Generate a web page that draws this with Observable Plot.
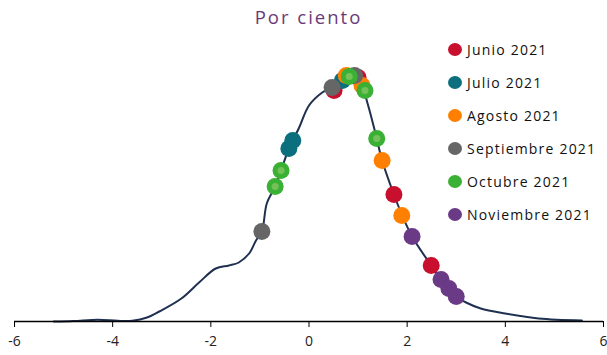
<!DOCTYPE html>
<html>
<head>
<meta charset="utf-8">
<script src="https://cdn.jsdelivr.net/npm/d3@7"></script>
<script src="https://cdn.jsdelivr.net/npm/@observablehq/plot@0.6"></script>
<style>
  html, body { margin: 0; padding: 0; background: #fff; }
  #wrap { position: relative; width: 607px; height: 355px; overflow: hidden; font-family: "Open Sans", "Liberation Sans", sans-serif; }
  #title { height: 36px; line-height: 34px; text-align: center; font-size: 18.5px; letter-spacing: 2px; color: #6a3a78; padding-left: 10px; }
  #legend { position: absolute; left: 447px; top: 40px; }
  .item { position: absolute; left: 0; height: 20px; white-space: nowrap; font-size: 14px; letter-spacing: 1.2px; color: #111; }
  .sw { position: absolute; left: 1px; top: 3px; width: 14px; height: 13px; border-radius: 50%; }
  .lab { position: absolute; left: 20px; top: 0; line-height: 20px; }
</style>
</head>
<body>
<div id="wrap">
  <div id="title">Por ciento</div>
  <div id="chart"></div>
  <div id="legend"></div>
</div>
<script>
// Density curve (x in per cent, height in arbitrary density units)
const curveX = [-5.2,-4.8,-4.3,-3.9,-3.6,-3.3,-3.05,-2.6,-2.24,-1.9,-1.63,-1.43,-1.22,-1.08,-0.96,-0.86,-0.69,-0.57,-0.41,-0.33,-0.2,0,0.27,0.47,0.68,0.85,1.0,1.1,1.16,1.25,1.38,1.49,1.73,1.9,2.1,2.49,2.69,2.85,3.0,3.2,3.5,4.0,4.68,5.56];
const curveY = [0,0.5,1.8,0.7,0.8,4,10,23,39,53,56,59,68,81,90,118,135,151,173,181,194,216,229,234,242,246,244,236,224,208,183,161,127,106,85,56,42,33,25,19,13,8,3,1];

const seriesNames = ["Junio 2021","Julio 2021","Agosto 2021","Septiembre 2021","Octubre 2021","Noviembre 2021"];
const seriesColors = ["#c8102e","#0b6f7d","#ff8000","#666666","#3ab034","#6b3a87"];

const junioX = [0.51,1.0,1.73,2.49];        const junioY = [231,244,127,56];
const julioX = [-0.41,-0.33,0.68];           const julioY = [173,181,241];
const agostoX = [0.76,1.08,1.49,1.89];       const agostoY = [246,236,161,106];
const septX = [-0.96,0.47,0.93];             const septY = [90,234,246];
const octX = [-0.69,-0.57,0.82,1.14,1.38];   const octY = [135,151,245,231,183];
const novX = [2.1,2.69,2.85,3.0];            const novY = [85,42,33,25];

const xTicks = [-6,-4,-2,0,2,4,6];

const curve = curveX.map((x, i) => ({x, y: curveY[i]}));
const seriesX = [junioX, julioX, agostoX, septX, octX, novX];
const seriesY = [junioY, julioY, agostoY, septY, octY, novY];
const pts = [];
seriesX.forEach((xs, s) => xs.forEach((x, i) => pts.push({x, y: seriesY[s][i], s: seriesNames[s]})));

const chart = Plot.plot({
  width: 607,
  height: 319,
  marginLeft: 14,
  marginRight: 4,
  marginTop: 0,
  marginBottom: 34,
  style: {fontFamily: "'Open Sans', 'Liberation Sans', sans-serif", fontSize: "14px", color: "#222", background: "#fff"},
  x: {domain: [-6, 6], ticks: xTicks, tickFormat: d => String(d), tickSize: 6, tickPadding: 9, label: null},
  y: {domain: [0, 285], axis: null},
  color: {domain: seriesNames, range: seriesColors},
  marks: [
    Plot.line(curve, {x: "x", y: "y", curve: "catmull-rom", stroke: "#1f3050", strokeWidth: 2}),
    Plot.dot(pts, {x: "x", y: "y", r: 8.5, fill: "s", stroke: "none"}),
    Plot.dot(pts.filter(d => d.s === "Octubre 2021"), {x: "x", y: "y", r: 3.5, fill: "#74c15a"}),
    Plot.ruleY([0], {stroke: "#000", strokeWidth: 1.5})
  ]
});
chart.querySelectorAll("[aria-label='x-axis tick'] path").forEach(p => p.setAttribute("stroke", "#000"));
document.getElementById("chart").appendChild(chart);

const legend = document.getElementById("legend");
seriesNames.forEach((n, i) => {
  const d = document.createElement("div");
  d.className = "item";
  d.style.top = (i * 33) + "px";
  d.innerHTML = `<span class="sw" style="background:${seriesColors[i]}"></span><span class="lab">${n}</span>`;
  legend.appendChild(d);
});
</script>
</body>
</html>
